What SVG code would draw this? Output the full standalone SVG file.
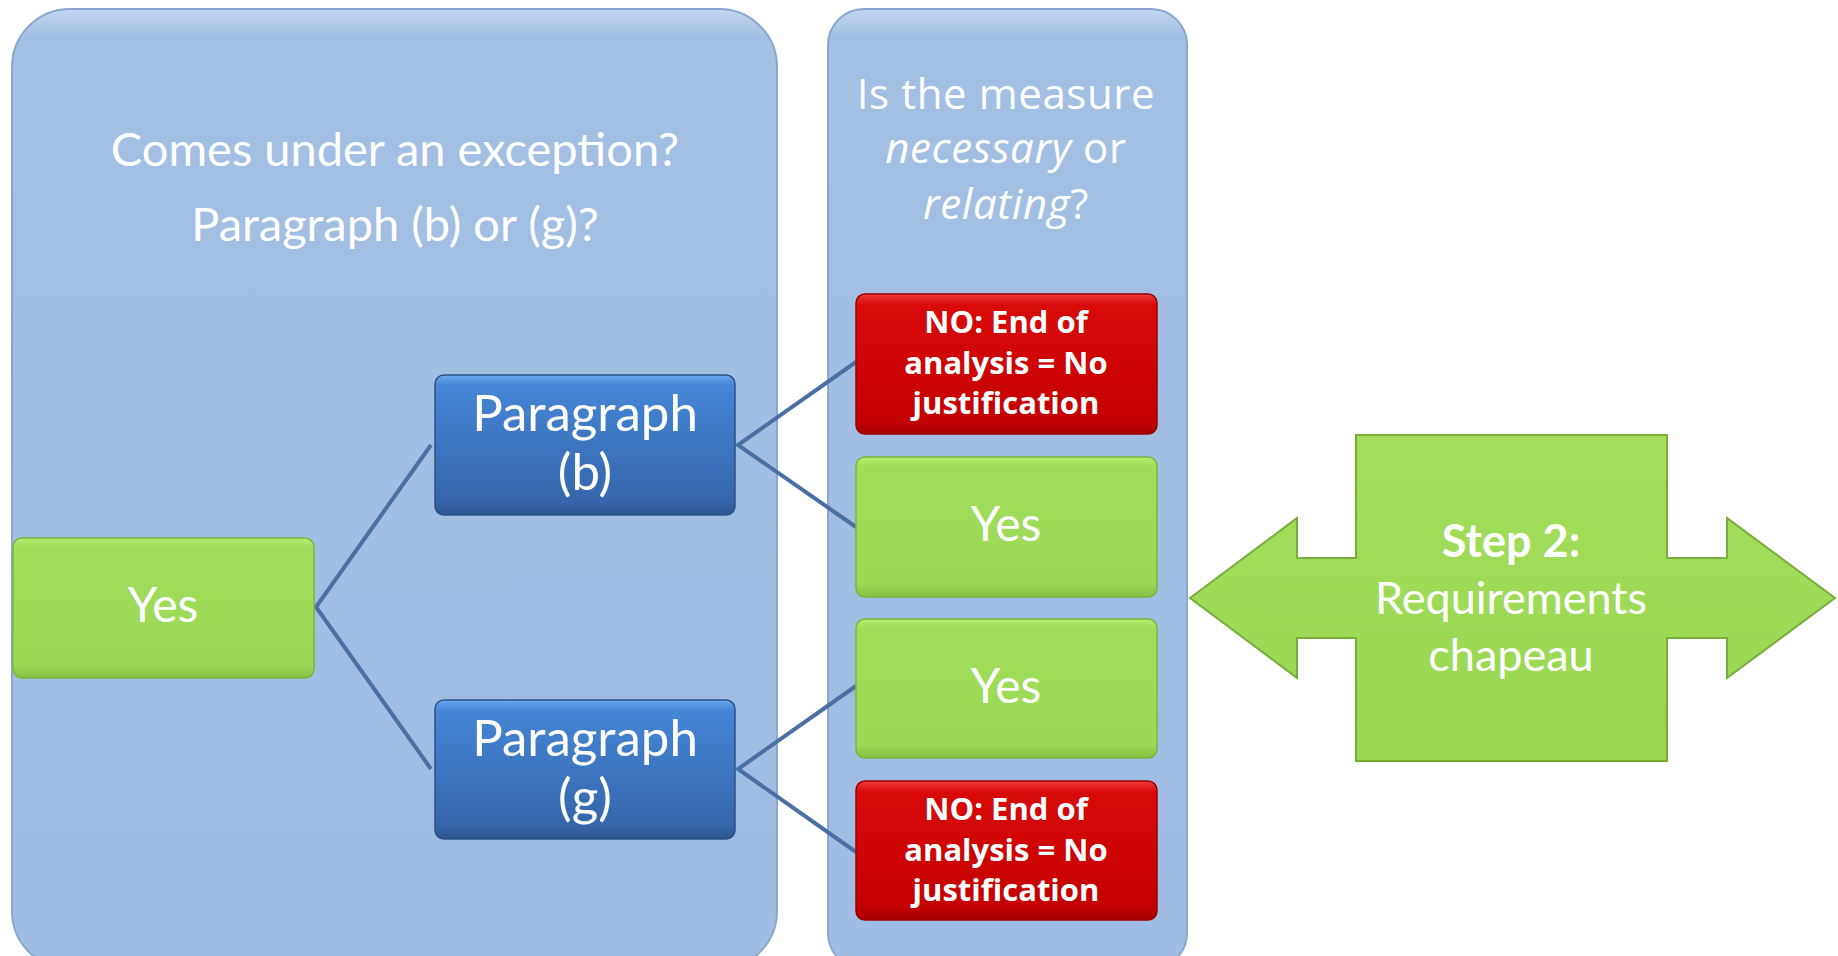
<svg xmlns="http://www.w3.org/2000/svg" width="1838" height="956" viewBox="0 0 1838 956">
<defs>
<linearGradient id="gPanel" x1="0" y1="0" x2="0" y2="1">
<stop offset="0" stop-color="#c2d6ef"/><stop offset="0.03" stop-color="#a3bfe3"/><stop offset="1" stop-color="#a0bce2"/>
</linearGradient>
<linearGradient id="gGreen" x1="0" y1="0" x2="0" y2="1">
<stop offset="0" stop-color="#b6ee72"/><stop offset="0.07" stop-color="#9fdd5a"/><stop offset="0.9" stop-color="#9bd956"/><stop offset="1" stop-color="#86c043"/>
</linearGradient>
<linearGradient id="gBlue" x1="0" y1="0" x2="0" y2="1">
<stop offset="0" stop-color="#6aaaf0"/><stop offset="0.07" stop-color="#4586d6"/><stop offset="0.9" stop-color="#3566ab"/><stop offset="1" stop-color="#2c5690"/>
</linearGradient>
<linearGradient id="gRed" x1="0" y1="0" x2="0" y2="1">
<stop offset="0" stop-color="#f03a3a"/><stop offset="0.08" stop-color="#d80a0a"/><stop offset="0.9" stop-color="#c40000"/><stop offset="1" stop-color="#a80000"/>
</linearGradient>
<linearGradient id="gArrow" x1="0" y1="0" x2="0" y2="1">
<stop offset="0" stop-color="#a3df5c"/><stop offset="1" stop-color="#98d652"/>
</linearGradient>
</defs>
<style>
.panel{fill:url(#gPanel);stroke:#8aa7d0;stroke-width:2}
.green{fill:url(#gGreen);stroke:#7fb23e;stroke-width:1.5}
.blue{fill:url(#gBlue);stroke:#2a5288;stroke-width:1.5}
.red{fill:url(#gRed);stroke:#9a0000;stroke-width:1.5}
.arrow{fill:url(#gArrow);stroke:#78ad3a;stroke-width:2}
.conn{stroke:#4a6fa5;stroke-width:4;fill:none}
text{fill:#ffffff;text-anchor:middle}
.cal{font-family:Lato,"Liberation Sans",sans-serif}
.seg{font-family:"Open Sans","Noto Sans",sans-serif}
.title{font-size:47px}
.mid{font-size:42px;letter-spacing:0.6px}
.big{font-size:48px}
.para{font-size:51px}
.redt{font-size:31px;font-weight:bold;font-family:"Open Sans","Noto Sans",sans-serif}
.step{font-size:45px}
</style>

<g id="panel-exception">
<rect class="panel" x="12" y="9" width="765" height="960" rx="58" ry="58"/>
<text class="cal title" x="395" y="166">Comes under an exception?</text>
<text class="cal title" x="395" y="241">Paragraph (b) or (g)?</text>
</g>

<g id="panel-necessary">
<rect class="panel" x="828" y="9" width="359" height="960" rx="36" ry="36"/>
<text class="seg mid" x="1006" y="109">Is the measure</text>
<text class="seg mid" x="1006" y="163"><tspan font-style="italic">necessary</tspan> or</text>
<text class="seg mid" x="1006" y="219"><tspan font-style="italic">relating</tspan>?</text>
</g>

<g id="connectors">
<polyline class="conn" points="431,445 316,607 431,769"/>
<polyline class="conn" points="856,362 738,445 856,527"/>
<polyline class="conn" points="856,686 738,769 856,852"/>
</g>

<g id="yes-left">
<rect class="green" x="13" y="538" width="301" height="140" rx="9"/>
<text class="cal big" x="163" y="622">Yes</text>
</g>

<g id="para-b">
<rect class="blue" x="435" y="375" width="300" height="140" rx="9"/>
<text class="cal para" x="585" y="431">Paragraph</text>
<text class="cal para" x="585" y="490">(b)</text>
</g>

<g id="para-g">
<rect class="blue" x="435" y="700" width="300" height="139" rx="9"/>
<text class="cal para" x="585" y="756">Paragraph</text>
<text class="cal para" x="585" y="815">(g)</text>
</g>

<g id="no-b">
<rect class="red" x="856" y="294" width="301" height="140" rx="9"/>
<text class="redt" x="1006" y="333">NO: End of</text>
<text class="redt" x="1006" y="374">analysis = No</text>
<text class="redt" x="1006" y="414">justification</text>
</g>

<g id="yes-b">
<rect class="green" x="856" y="457" width="301" height="140" rx="9"/>
<text class="cal big" x="1006" y="541">Yes</text>
</g>

<g id="yes-g">
<rect class="green" x="856" y="619" width="301" height="139" rx="9"/>
<text class="cal big" x="1006" y="703">Yes</text>
</g>

<g id="no-g">
<rect class="red" x="856" y="781" width="301" height="139" rx="9"/>
<text class="redt" x="1006" y="820">NO: End of</text>
<text class="redt" x="1006" y="861">analysis = No</text>
<text class="redt" x="1006" y="901">justification</text>
</g>

<g id="step2">
<path class="arrow" d="M1190,598 L1297,518 L1297,558 L1356,558 L1356,435 L1667,435 L1667,558 L1727,558 L1727,518 L1835,598 L1727,678 L1727,638 L1667,638 L1667,761 L1356,761 L1356,638 L1297,638 L1297,678 Z"/>
<text class="cal step" x="1511" y="557" font-weight="bold">Step 2:</text>
<text class="cal step" x="1511" y="614">Requirements</text>
<text class="cal step" x="1511" y="671">chapeau</text>
</g>
</svg>
